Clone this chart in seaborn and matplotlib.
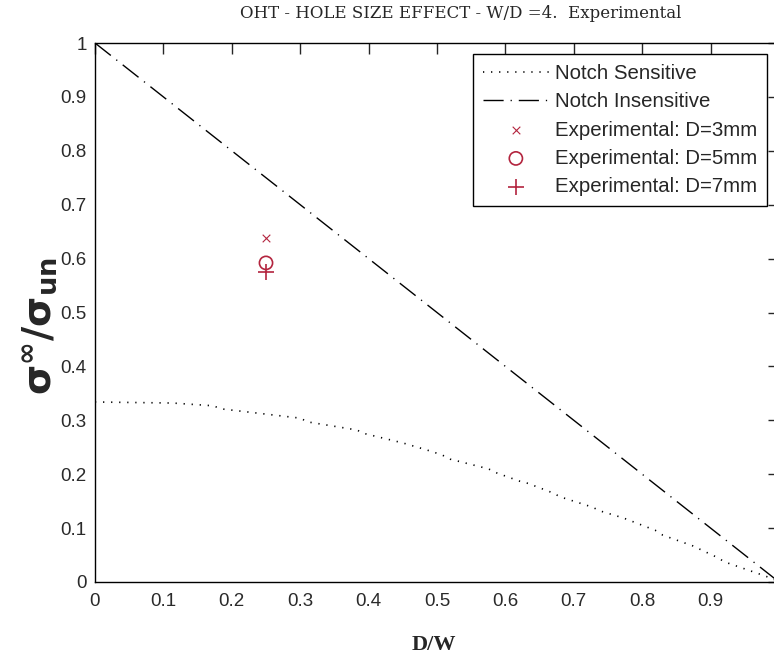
import matplotlib
matplotlib.use("Agg")
import matplotlib.pyplot as plt
import seaborn as sns

# ---- data ----
sens_x = [0.0, 0.114, 0.172, 0.186, 0.30, 0.311, 0.383, 0.392, 0.45, 0.485, 0.507,
          0.519, 0.575, 0.588, 0.621, 0.633, 0.670, 0.68, 0.727, 0.738, 0.772,
          0.819, 0.83, 0.874, 0.909, 0.921, 0.962, 0.991, 1.0]
sens_y = [0.334, 0.332, 0.327, 0.321, 0.304, 0.297, 0.282, 0.276, 0.258, 0.245, 0.236,
          0.228, 0.21, 0.202, 0.187, 0.183, 0.165, 0.158, 0.139, 0.132, 0.119,
          0.096, 0.087, 0.067, 0.046, 0.037, 0.019, 0.006, 0.0]
insens_x = [0.0, 1.0]
insens_y = [1.0, 0.0]
exp_labels = ["Experimental: D=3mm", "Experimental: D=5mm", "Experimental: D=7mm"]
exp_x = [0.25, 0.25, 0.25]
exp_y = [0.638, 0.592, 0.575]
xticks = [0, 0.1, 0.2, 0.3, 0.4, 0.5, 0.6, 0.7, 0.8, 0.9, 1.0]
xticklabels = ["0", "0.1", "0.2", "0.3", "0.4", "0.5", "0.6", "0.7", "0.8", "0.9", ""]
yticks = [0, 0.1, 0.2, 0.3, 0.4, 0.5, 0.6, 0.7, 0.8, 0.9, 1.0]
yticklabels = ["0", "0.1", "0.2", "0.3", "0.4", "0.5", "0.6", "0.7", "0.8", "0.9", "1"]

sns.set_style("white")
plt.rcParams["font.family"] = ["Liberation Sans", "DejaVu Sans"]
plt.rcParams["lines.scale_dashes"] = False
plt.rcParams["mathtext.fontset"] = "custom"
plt.rcParams["mathtext.bf"] = "DejaVu Sans:bold"
plt.rcParams["mathtext.rm"] = "DejaVu Sans:bold"
plt.rcParams["mathtext.it"] = "DejaVu Sans:bold"
plt.rcParams["mathtext.default"] = "bf"

W, H = 774, 659
fig = plt.figure(figsize=(W / 100, H / 100), dpi=100)
ax = fig.add_axes([95 / W, 1 - 582 / H, (779 - 95) / W, (582 - 43) / H])

sns.lineplot(x=sens_x, y=sens_y, ax=ax, color="black", linewidth=1.2,
             linestyle=(0, (0.9, 4.9)), label="Notch Sensitive", sort=False,
             estimator=None)
sns.lineplot(x=insens_x, y=insens_y, ax=ax, color="black", linewidth=1.0,
             linestyle=(0, (14.5, 5.0, 0.9, 5.0)), label="Notch Insensitive",
             sort=False, estimator=None)

red = "#b3243e"
markers = ["x", "o", "+"]
sizes = [30, 90, 140]
lws = [0.8, 1.2, 1.2]
for lab, xv, yv, m, s, lw in zip(exp_labels, exp_x, exp_y, markers, sizes, lws):
    if m == "o":
        sns.scatterplot(x=[xv], y=[yv], ax=ax, marker=m, s=s, facecolor="none",
                        edgecolor=red, linewidth=lw, label=lab)
    else:
        sns.scatterplot(x=[xv], y=[yv], ax=ax, marker=m, s=s, color=red,
                        linewidth=lw, label=lab)

ax.set_xlim(0, 1)
ax.set_ylim(0, 1)
ax.set_xticks(xticks)
ax.set_xticklabels(xticklabels)
ax.set_yticks(yticks)
ax.set_yticklabels(yticklabels)
ax.tick_params(direction="in", length=8, width=1.0, labelsize=13.5,
               labelcolor="#2a2a2a", top=True, right=True, pad=6)
ax.tick_params(axis="x", pad=8)
for sp in ax.spines.values():
    sp.set_visible(True)
    sp.set_color("black")
    sp.set_linewidth(1.0)
ax.set_xlabel("")
ax.set_ylabel("")

leg = ax.legend(loc="upper left", bbox_to_anchor=(473 / W, 1 - 54 / H),
                bbox_transform=fig.transFigure, borderaxespad=0, fancybox=False,
                frameon=True, edgecolor="black", framealpha=1, fontsize=14.7,
                handlelength=3.2, handletextpad=0.3, labelspacing=0.45,
                borderpad=0.5)
leg.get_frame().set_linewidth(1.0)

fig.text(461 / W, 1 - 14 / H, "OHT - HOLE SIZE EFFECT - W/D =4.  Experimental",
         ha="center", va="center", fontsize=12, family="DejaVu Serif")
fig.text(434 / W, 1 - 645 / H, "D/W", ha="center", va="center", fontsize=16,
         family="Liberation Serif", fontweight="bold")
fig.text(40 / W, 1 - 326 / H, r"$σ^{∞}/σ_{un}$", ha="center", va="center",
         rotation=90, fontsize=28)

fig.savefig("out.png", dpi=100)
